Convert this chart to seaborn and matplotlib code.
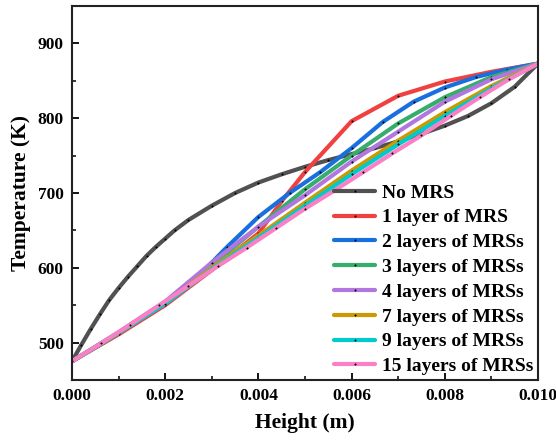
import matplotlib
matplotlib.use("Agg")
import matplotlib.pyplot as plt
import seaborn as sns
import pandas as pd
from matplotlib.ticker import MultipleLocator

# ---- data ----
x_none = [0, 0.0002, 0.0004, 0.0006, 0.0008, 0.001, 0.0012, 0.0014, 0.0016, 0.0018,
          0.002, 0.0022, 0.0025, 0.003, 0.0035, 0.004, 0.0045, 0.005, 0.0055, 0.006,
          0.0065, 0.007, 0.0075, 0.008, 0.0085, 0.009, 0.0095, 0.010]
t_none = [475, 497, 518, 538, 557, 573, 588, 602, 616, 628,
          639, 650, 664, 683, 700, 714, 725, 735, 744, 752,
          760, 769, 779, 790, 803, 820, 842, 873]

x_1 = [0, 0.001, 0.002, 0.003, 0.004, 0.0045, 0.005, 0.006, 0.007, 0.008, 0.009, 0.010]
t_1 = [475, 511, 550, 597, 646, 689, 728, 796, 830, 849, 862, 873]

x_2 = [0, 0.000667, 0.00133, 0.002, 0.00267, 0.00333, 0.004, 0.00467, 0.00533, 0.006,
       0.00667, 0.00733, 0.008, 0.00867, 0.00933, 0.010]
t_2 = [475, 500, 526, 553, 586, 628, 668, 700, 728, 760,
       795, 822, 841, 855, 865, 873]

x_3 = [0, 0.001, 0.002, 0.003, 0.004, 0.005, 0.006, 0.007, 0.008, 0.009, 0.010]
t_3 = [475, 513, 553, 603, 655, 705, 750, 793, 828, 855, 873]

x_4 = [0, 0.001, 0.002, 0.003, 0.004, 0.005, 0.006, 0.007, 0.008, 0.009, 0.010]
t_4 = [475, 514, 555, 607, 655, 697, 742, 782, 822, 852, 873]

x_7 = [0, 0.001, 0.002, 0.003, 0.004, 0.005, 0.006, 0.007, 0.008, 0.009, 0.010]
t_7 = [475, 513, 553, 600, 643, 687, 730, 770, 808, 843, 873]

x_9 = [0, 0.001, 0.002, 0.003, 0.004, 0.005, 0.006, 0.007, 0.008, 0.009, 0.010]
t_9 = [475, 513, 552, 598, 640, 683, 725, 765, 803, 840, 873]

x_15 = [0, 0.000625, 0.00125, 0.001875, 0.0025, 0.003125, 0.00375, 0.004375, 0.005,
        0.005625, 0.00625, 0.006875, 0.0075, 0.008125, 0.00875, 0.009375, 0.010]
t_15 = [475, 499, 524, 550, 576, 602, 627, 653, 679,
        703, 728, 753, 777, 803, 828, 852, 873]

labels = ["No MRS", "1 layer of MRS", "2 layers of MRSs", "3 layers of MRSs",
          "4 layers of MRSs", "7 layers of MRSs", "9 layers of MRSs", "15 layers of MRSs"]
colors = ["#515151", "#F14040", "#1A6FDF", "#37AD6B", "#B177DE", "#CC9900", "#00CBCC", "#FB7FC4"]

xs = [x_none, x_1, x_2, x_3, x_4, x_7, x_9, x_15]
ts = [t_none, t_1, t_2, t_3, t_4, t_7, t_9, t_15]

# ---- figure ----
sns.set_theme(style="ticks")
plt.rcParams["font.family"] = ["Liberation Serif", "DejaVu Serif"]
plt.rcParams["font.weight"] = "bold"
plt.rcParams["text.color"] = "black"
plt.rcParams["axes.labelcolor"] = "black"
plt.rcParams["xtick.color"] = "black"
plt.rcParams["ytick.color"] = "black"

fig = plt.figure(figsize=(5.56, 4.43), dpi=100)
ax = fig.add_axes([0.1295, 0.1422, 0.8381, 0.8443])

for x, t, lab, c in zip(xs, ts, labels, colors):
    df = pd.DataFrame({"Height": x, "Temperature": t})
    sns.lineplot(data=df, x="Height", y="Temperature", ax=ax, color=c, lw=3.0,
                 label=lab, sort=False, marker="o", markersize=1.2,
                 markerfacecolor="black", markeredgecolor="black", markeredgewidth=0.2)

ax.set_xlim(0, 0.010)
ax.set_ylim(450, 950)
ax.xaxis.set_major_locator(MultipleLocator(0.002))
ax.xaxis.set_minor_locator(MultipleLocator(0.001))
ax.yaxis.set_major_locator(MultipleLocator(100))
ax.yaxis.set_minor_locator(MultipleLocator(50))
ax.set_yticks([500, 600, 700, 800, 900])
ax.xaxis.set_major_formatter(matplotlib.ticker.FormatStrFormatter("%.3f"))

ax.tick_params(axis="both", which="major", direction="in", length=5, width=1.3,
               labelsize=12.5, pad=6, colors="black")
ax.tick_params(axis="both", which="minor", direction="in", length=3, width=1.1, colors="black")
for lab in ax.get_xticklabels() + ax.get_yticklabels():
    lab.set_fontweight("bold")
    lab.set_color("black")

for s in ax.spines.values():
    s.set_linewidth(1.5)
    s.set_color("#222222")

ax.set_xlabel("Height (m)", fontsize=15.5, fontweight="bold", labelpad=6, color="black")
ax.set_ylabel("Temperature (K)", fontsize=15.5, fontweight="bold", color="black")
ax.yaxis.set_label_coords(-0.088, 0.5)

leg = ax.legend(loc="lower right", frameon=False, handlelength=2.1,
                handletextpad=0.35, labelspacing=0.37, borderpad=0.1, borderaxespad=0.15,
                prop={"weight": "bold", "size": 14})
for txt in leg.get_texts():
    txt.set_color("black")

fig.savefig("out.png", dpi=100)
